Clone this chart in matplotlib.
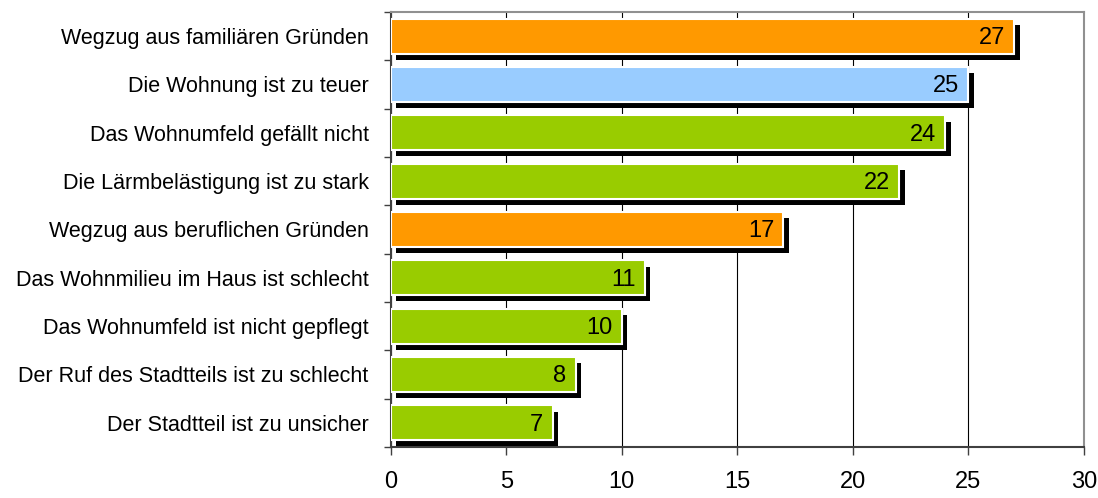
import matplotlib
matplotlib.use('Agg')
import matplotlib.pyplot as plt
import matplotlib.patheffects as pe
from matplotlib.ticker import MultipleLocator, FixedLocator
import numpy as np

plt.rcParams['font.family'] = ['Liberation Sans', 'DejaVu Sans']

# Gründe für den Wegzug (Anteil in %)
categories = ['Wegzug aus familiären Gründen',
              'Die Wohnung ist zu teuer',
              'Das Wohnumfeld gefällt nicht',
              'Die Lärmbelästigung ist zu stark',
              'Wegzug aus beruflichen Gründen',
              'Das Wohnmilieu im Haus ist schlecht',
              'Das Wohnumfeld ist nicht gepflegt',
              'Der Ruf des Stadtteils ist zu schlecht',
              'Der Stadtteil ist zu unsicher']
values = [27, 25, 24, 22, 17, 11, 10, 8, 7]
colors = ['#FF9900', '#99CCFF', '#99CC00', '#99CC00', '#FF9900',
          '#99CC00', '#99CC00', '#99CC00', '#99CC00']

fig = plt.figure(figsize=(10.98, 4.98), dpi=100)
ax = fig.add_axes([0.356, 0.1024, 0.631, 0.8736])

y = np.arange(len(categories))
bars = ax.barh(y, values, height=0.72, color=colors, edgecolor='white',
               linewidth=1.5, zorder=3)
# black drop shadow to the lower right of each bar
for b in bars:
    b.set_path_effects([pe.SimplePatchShadow(offset=(4, -4.5), shadow_rgbFace='black',
                                             alpha=1.0), pe.Normal()])

for yi, v in zip(y, values):
    ax.text(v - 0.4, yi + 0.04, str(v), ha='right', va='center', fontsize=17,
            color='black', zorder=5)

ax.set_xlim(0, 30)
ax.set_ylim(len(categories) - 0.5, -0.5)
ax.xaxis.set_major_locator(MultipleLocator(5))
ax.set_yticks(y)
ax.set_yticklabels(categories, fontsize=15.5)
ax.yaxis.set_minor_locator(FixedLocator(np.arange(-0.5, len(categories), 1)))
ax.tick_params(axis='y', which='major', length=0, pad=16)
ax.tick_params(axis='y', which='minor', length=5, width=1, color='#404040')
ax.tick_params(axis='x', length=6, width=1, color='#404040', labelsize=17, pad=11)

ax.grid(axis='x', color='black', linewidth=0.8, zorder=0)
ax.set_axisbelow(True)

for side in ['top', 'right']:
    ax.spines[side].set_color('#909090')
    ax.spines[side].set_linewidth(1.5)
ax.spines['left'].set_color('#404040')
ax.spines['bottom'].set_color('#404040')
ax.spines['left'].set_linewidth(1.5)
ax.spines['bottom'].set_linewidth(1.5)

fig.savefig('out.png', dpi=100)
